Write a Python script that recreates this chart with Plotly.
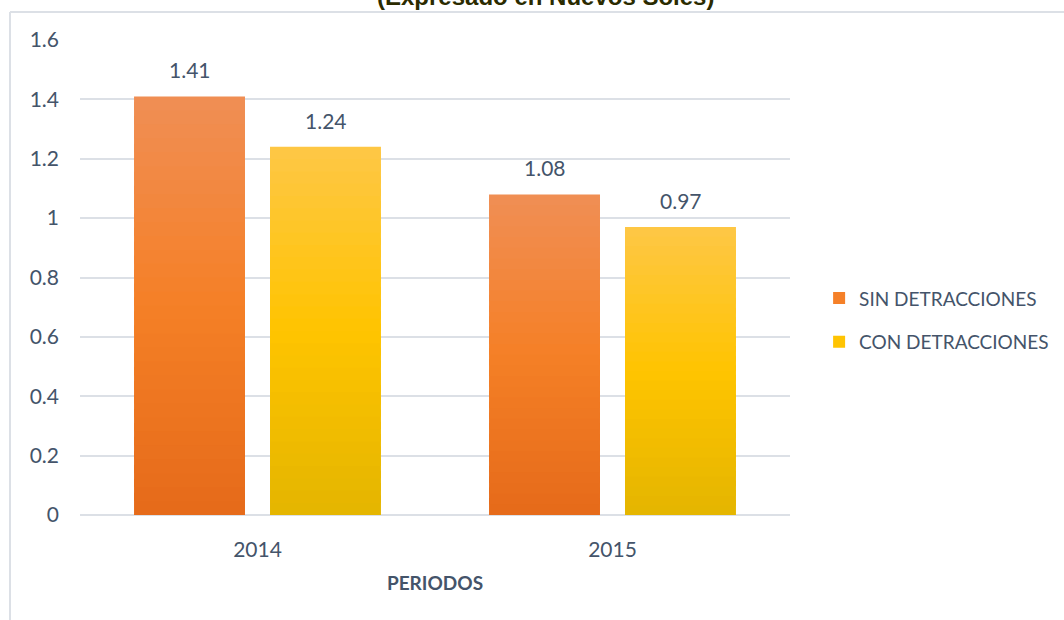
import plotly.graph_objects as go

categories = ["2014", "2015"]
sin_detracciones = [1.41, 1.08]
con_detracciones = [1.24, 0.97]
series_names = ["SIN DETRACCIONES", "CON DETRACCIONES"]
y_ticks = [0, 0.2, 0.4, 0.6, 0.8, 1.0, 1.2, 1.4, 1.6]
y_tick_labels = ["0", "0.2", "0.4", "0.6", "0.8", "1", "1.2", "1.4", "1.6"]

# gradient stops (bottom, middle, top)
gradients = [
    [(229, 106, 26), (245, 128, 38), (240, 142, 85)],
    [(228, 181, 0), (255, 196, 0), (254, 199, 70)],
]

TEXT = "#44546A"
FONT = "Lato"
N = 30


def lerp(c1, c2, t):
    return tuple(round(a + (b - a) * t) for a, b in zip(c1, c2))


def grad_color(stops, f):
    if f < 0.5:
        c = lerp(stops[0], stops[1], f / 0.5)
    else:
        c = lerp(stops[1], stops[2], (f - 0.5) / 0.5)
    return "rgb(%d,%d,%d)" % c


fig = go.Figure()
series_values = [sin_detracciones, con_detracciones]
for si, (name, vals) in enumerate(zip(series_names, series_values)):
    for k in range(N):
        f = (k + 0.5) / N
        last = k == N - 1
        seg = [v / N * (1 if last else 1.6) for v in vals]
        base = [v * k / N for v in vals]
        fig.add_trace(go.Bar(
            x=categories, y=seg, base=base,
            offsetgroup=str(si), legendgroup=str(si),
            name=name, showlegend=(k == N // 2),
            marker=dict(color=grad_color(gradients[si], f), line=dict(width=0)),
            hoverinfo="skip",
        ))

annotations = []
for si, vals in enumerate(series_values):
    for ci, v in enumerate(vals):
        annotations.append(dict(
            x=ci, y=v, xref="x", yref="y", text="%.2f" % v,
            xshift=-68 if si == 0 else 68, yshift=12,
            yanchor="bottom", xanchor="center", showarrow=False,
            font=dict(family=FONT, size=21, color=TEXT)))
annotations.append(dict(
    text="<b>(Expresado en Nuevos Soles)</b>", xref="paper", yref="paper",
    x=(545 - 80) / 710, y=(515 - 12) / 475, xanchor="center", yanchor="bottom",
    showarrow=False, font=dict(family="Liberation Sans", size=24, color="#2B2B00")))

fig.update_layout(
    width=1064, height=620,
    margin=dict(l=80, r=274, t=40, b=105, autoexpand=False),
    paper_bgcolor="white", plot_bgcolor="white",
    barmode="group", bargap=0.234, bargroupgap=0.184,
    font=dict(family=FONT, size=21, color=TEXT),
    legend=dict(x=1.041, y=0.41, xanchor="left", yanchor="middle",
                font=dict(family=FONT, size=19, color=TEXT),
                tracegroupgap=16, itemwidth=30),
    xaxis=dict(type="category", range=[-0.5, 1.5], showgrid=False, showline=False,
               ticks="", automargin=False, ticklabelstandoff=20,
               title=dict(text="<b>PERIODOS</b>", standoff=16,
                          font=dict(family=FONT, size=19, color=TEXT))),
    yaxis=dict(range=[0, 1.6], tickvals=y_ticks, ticktext=y_tick_labels,
               automargin=False,
               showgrid=True, gridcolor="#DCE0E6", gridwidth=1.5,
               zeroline=True, zerolinecolor="#DCE0E6", zerolinewidth=1.5,
               showline=False, ticks="", ticklabelstandoff=20),
    shapes=[
        dict(type="line", xref="paper", yref="paper",
             x0=(10 - 80) / 710, x1=(1064 - 80) / 710,
             y0=(515 - 12) / 475, y1=(515 - 12) / 475,
             line=dict(color="#DCE0E6", width=2)),
        dict(type="line", xref="paper", yref="paper",
             x0=(10 - 80) / 710, x1=(10 - 80) / 710,
             y0=(515 - 12) / 475, y1=-105 / 475,
             line=dict(color="#DCE0E6", width=2)),
    ],
    annotations=annotations,
)

fig.write_html("out.html", config={"displayModeBar": False},
               post_script="document.body.style.margin='0';")
